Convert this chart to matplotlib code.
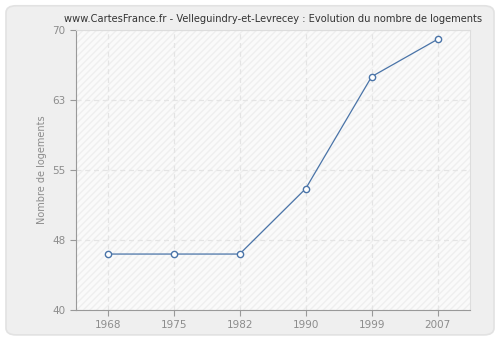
import numpy as np
import matplotlib
matplotlib.use("Agg")
import matplotlib.pyplot as plt
from matplotlib.patches import FancyBboxPatch, Rectangle

years = ["1968", "1975", "1982", "1990", "1999", "2007"]
logements = [46, 46, 46, 53, 65, 69]
yticks = [40, 47.5, 55, 62.5, 70]
ytick_labels = ["40", "48", "55", "63", "70"]

fig = plt.figure(figsize=(5, 3.4), dpi=100)
fig.patch.set_facecolor("white")

# fond arrondi gris clair
box = FancyBboxPatch((0.012, 0.015), 0.976, 0.968, boxstyle="round,pad=0,rounding_size=0.02",
                     transform=fig.transFigure, facecolor="#efefef", edgecolor="#e2e2e2",
                     linewidth=1.2, zorder=-10)
fig.patches.append(box)

ax = fig.add_axes([0.152, 0.088, 0.788, 0.824])
ax.set_zorder(1)
ax.set_facecolor("#fafafa")

x = np.arange(len(years))

# hachures tres legeres
ax.add_patch(Rectangle((-0.5, 40), 6, 30, facecolor="none", edgecolor="#efefef",
                       hatch="/////", linewidth=0, zorder=0))

ax.grid(True, color="#e4e4e4", linestyle=(0, (4, 3)), linewidth=0.9)
ax.set_axisbelow(True)

ax.plot(x, logements, color="#4a74a8", linewidth=0.9, marker="o", markersize=4.5,
        markerfacecolor="white", markeredgecolor="#4a74a8", markeredgewidth=1, zorder=3)

ax.set_xlim(-0.48, 5.49)
ax.set_ylim(40, 70)
ax.set_xticks(x)
ax.set_xticklabels(years)
ax.set_yticks(yticks)
ax.set_yticklabels(ytick_labels)

ax.tick_params(axis="both", colors="#999999", labelcolor="#8c8c8c", labelsize=7.5,
               length=4, width=0.8)
for s in ["left", "bottom"]:
    ax.spines[s].set_color("#999999")
for s in ["top", "right"]:
    ax.spines[s].set_color("#dddddd")

ax.set_ylabel("Nombre de logements", fontsize=7, color="#8c8c8c")
ax.set_title("www.CartesFrance.fr - Velleguindry-et-Levrecey : Evolution du nombre de logements",
             fontsize=7.1, color="#333333", pad=6)

plt.savefig("out.png", dpi=100, facecolor=fig.get_facecolor())
